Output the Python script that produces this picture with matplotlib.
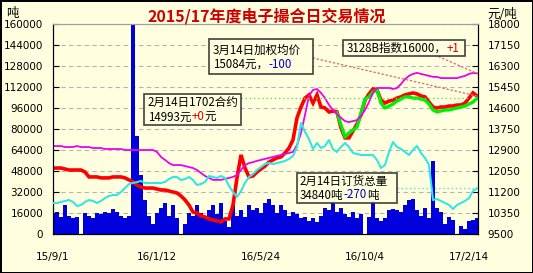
import matplotlib
matplotlib.use('Agg')
import matplotlib.pyplot as plt
import numpy as np
from matplotlib.patches import Rectangle

plt.rcParams['font.family'] = ['Noto Sans CJK SC', 'DejaVu Sans']

title = '2015/17年度电子撮合日交易情况'
date_labels = ['15/9/1', '16/1/12', '16/5/24', '16/10/4', '17/2/14']
date_ticks = [0, 26, 52, 78, 104]

# daily volume (t), left axis
volume = [15000, 17000, 13000, 22000, 14000, 12000, 13000, 0, 16000, 14000,
          12000, 16000, 15000, 17000, 16000, 19000, 17000, 14000, 12000, 14000,
          160000, 75000, 45000, 26000, 14000, 8000, 16000, 20000, 24000, 14000,
          22000, 12000, 0, 8000, 16000, 14000, 22000, 16000, 13000, 18000,
          22000, 15000, 24000, 10000, 5000, 22000, 14000, 18000, 13000, 22000,
          18000, 20000, 16000, 24000, 27000, 22000, 16000, 22000, 18000, 14000,
          17000, 15000, 12000, 13000, 10000, 12000, 9000, 14000, 20000, 18000,
          24000, 17000, 20000, 15000, 13000, 17000, 12000, 15000, 0, 13000,
          25000, 12000, 10000, 12000, 18000, 19000, 18000, 17000, 22000, 26000,
          27000, 18000, 14000, 20000, 12000, 56000, 20000, 17000, 8000, 13000,
          11000, 0, 6000, 4000, 10000, 11000, 12000]

# total orders (t), left axis
order_total = [23620, 23620, 24380, 25140, 25900, 24380, 21330, 22100, 24380, 25900,
               25140, 23620, 25140, 27430, 28950, 29710, 29710, 32000, 35050, 38100,
               38860, 39620, 40380, 38860, 38860, 38860, 38860, 38860, 39620, 41900,
               43430, 43430, 41140, 41900, 43430, 41140, 37330, 38100, 39620, 44190,
               43430, 42670, 44190, 42670, 36570, 32000, 28190, 32760, 38860, 43430,
               45710, 48760, 51050, 53330, 54100, 53330, 54100, 54860, 55620, 57140,
               59430, 66290, 84570, 77710, 72380, 64760, 69330, 65520, 67050, 71620,
               64760, 62480, 66290, 69330, 66290, 61710, 60950, 60190, 60190, 60190,
               60190, 56380, 50290, 52570, 62480, 70100, 66290, 64760, 62480, 60190,
               64000, 67050, 61710, 57900, 52570, 25900, 26670, 25140, 23620, 22100,
               19050, 22100, 23620, 25140, 27430, 32760, 34840]

# 3128B index (yuan/t), right axis
index_3128b = [13060, 13060, 13060, 13020, 13020, 13020, 13060, 13020, 13020, 13020,
               12980, 12980, 12980, 12940, 12940, 12940, 12940, 12940, 12900, 12900,
               12900, 12900, 12900, 12900, 12900, 12900, 12820, 12620, 12500, 12370,
               12290, 12290, 12290, 12250, 12210, 12170, 12090, 11970, 11850, 11770,
               11690, 11690, 11690, 11730, 11770, 11810, 11890, 12090, 12290, 12370,
               12410, 12460, 12500, 12540, 12580, 12620, 12660, 12700, 12740, 12780,
               12820, 13100, 13590, 14320, 15090, 15330, 15370, 15210, 15000, 14720,
               14520, 14360, 14200, 14070, 14030, 14070, 14110, 14280, 14520, 14840,
               15210, 15410, 15410, 15410, 15410, 15370, 15410, 15570, 15770, 15900,
               15980, 16020, 15980, 15940, 15900, 15860, 15860, 15810, 15810, 15810,
               15810, 15810, 15860, 15900, 15980, 16020, 16000]

# weighted average price (yuan/t), right axis
weighted_avg = [12170, 12170, 12170, 12130, 12090, 12090, 12090, 12090, 12010, 11810,
                11810, 11810, 11770, 11770, 11770, 11810, 11810, 11810, 11770, 11690,
                11610, 11480, 11400, 11360, 11360, 11360, 11320, 11280, 11280, 11240,
                11200, 11160, 11040, 10880, 10670, 10390, 10350, 10230, 10190, 10110,
                10070, 10030, 9990, 10110, 10110, 10670, 11770, 12700, 12170, 11810,
                11850, 12010, 12130, 12250, 12410, 12500, 12580, 12620, 12780, 12980,
                13310, 14200, 14640, 15000, 15130, 14800, 15130, 14640, 14600, 14440,
                14480, 14440, 13790, 13390, 13390, 13670, 13950, 14320, 14920, 15170,
                15370, 15330, 14920, 14800, 14880, 14920, 15000, 15050, 15130, 15170,
                15210, 15170, 15090, 15050, 14840, 14640, 14600, 14640, 14640, 14680,
                14680, 14720, 14720, 14800, 15000, 15210, 15084]

# 1702 contract (yuan/t), right axis
nan = float('nan')
contract_1702 = [nan] * 71 + [
    14400, 13910, 13430, 13590, 13710, 13830, 14400, 14960, 15050, 15250,
    15330, 14800, 14600, 14680, 14760, 14880, 14960, 15050, 15050, 15000,
    15000, 14960, 14920, 14760, 14520, 14440, 14480, 14520, 14520, 14560,
    14600, 14640, 14680, 14760, 14840, 14993]

avg_change = -100
idx_change = 1
c1702_change = 0
order_change = -270

W, H = 533, 273
BG = '#FFFFE0'
FS = 8.3

fig = plt.figure(figsize=(W / 100, H / 100), dpi=100, facecolor=BG)
fig.patch.set_edgecolor('black')
fig.patch.set_linewidth(2)

ax1 = fig.add_axes([53 / W, 1 - 234 / H, 425 / W, 210 / H])
ax1.set_facecolor(BG)
x = np.arange(len(volume))
ax1.bar(x, volume, width=1.0, color='#0000DD', linewidth=0, zorder=2)
ax1.set_ylim(0, 160000)
ax1.set_yticks(np.arange(0, 160001, 16000))
ax1.set_xlim(0, 106.25)
ax1.set_xticks(date_ticks)
ax1.set_xticklabels(date_labels)
ax1.grid(axis='y', color='#B4B4B4', linestyle=(0, (4, 3)), linewidth=0.8)
ax1.set_axisbelow(True)
ax1.tick_params(axis='y', direction='in', length=4, pad=7, labelsize=7.5)
ax1.tick_params(axis='x', length=0, pad=13, labelsize=7.5)

ax2 = ax1.twinx()
ax2.set_ylim(9500, 18000)
ax2.set_yticks(np.arange(9500, 18001, 850))
ax2.tick_params(axis='y', direction='in', length=4, pad=7, labelsize=7.5)
ax2.plot(x, weighted_avg, color='#FF0000', lw=2.6, solid_joinstyle='miter')
ax2.plot(x, contract_1702, color='#00EE00', lw=2.4)
ax2.plot(x, index_3128b, color='#EE00EE', lw=1.3)
ax2.set_xlim(0, 106.25)

ax3 = ax1.twinx()
ax3.set_ylim(0, 160000)
ax3.set_xlim(0, 106.25)
ax3.plot(x, order_total, color='#33E6E6', lw=1.5)
ax3.axis('off')

for ax in (ax1, ax2):
    ax.spines['top'].set_color('#A0A0A0')
    for lbl in ax.get_yticklabels() + ax.get_xticklabels():
        lbl.set_fontfamily('DejaVu Sans')

# guide lines
ax2.axhline(contract_1702[-1], xmin=(241 - 53) / 425, xmax=1, color='#66D966',
            linestyle=(0, (1, 2)), lw=1)
ax3.axhline(order_total[-1], xmin=(397 - 53) / 425, xmax=1, color='#55DDDD',
            linestyle=(0, (1, 2)), lw=1)
ax2.annotate('', xy=(x[-1], weighted_avg[-1]), xycoords='data',
             xytext=(313, H - 58), textcoords='figure pixels',
             arrowprops=dict(arrowstyle='-', linestyle=(0, (1, 2)), color='#E07070',
                             lw=1, shrinkA=0, shrinkB=0))
ax2.annotate('', xy=(x[-1], index_3128b[-1]), xycoords='data',
             xytext=(435, H - 55), textcoords='figure pixels',
             arrowprops=dict(arrowstyle='-', linestyle=(0, (1, 2)), color='#E07070',
                             lw=1, shrinkA=0, shrinkB=0))

# titles
fig.text(267 / W, 1 - 16 / H, title, ha='center', va='center', color='#CC0000',
         fontsize=11.5, fontweight='bold')
fig.text(6 / W, 1 - 14 / H, '吨', ha='left', va='center', fontsize=9)
fig.text(487 / W, 1 - 14 / H, '元/吨', ha='left', va='center', fontsize=9)


def box(x0, y0, x1, y1):
    r = Rectangle((x0 / W, 1 - y1 / H), (x1 - x0) / W, (y1 - y0) / H,
                  transform=fig.transFigure, facecolor=BG, alpha=0.92,
                  edgecolor='#303030', lw=1.2, clip_on=False, zorder=8)
    ax3.add_patch(r)


def line(xp, yp, parts):
    prev = None
    for s, c in parts:
        if prev is None:
            prev = ax3.annotate(s, xy=(xp, H - yp), xycoords='figure pixels',
                                va='center', ha='left', fontsize=FS, color=c,
                                annotation_clip=False, zorder=9)
        else:
            prev = ax3.annotate(s, xy=(1, 0), xycoords=prev, va='bottom', ha='left',
                                fontsize=FS, color=c, annotation_clip=False, zorder=9)


box(209, 39, 313, 74)
line(213, 50, [('3月14日加权均价', 'black')])
line(213, 64, [(f'{weighted_avg[-1]}元，', 'black'), (f'{avg_change:+d}', '#0000CC')])

box(343, 40, 465, 56)
line(347, 48, [(f'3128B指数{index_3128b[-1]}，', 'black'), (f'{idx_change:+d}', '#DD0000')])

box(144, 94, 241, 125)
line(148, 103, [('2月14日1702合约', 'black')])
line(148, 117, [(f'{contract_1702[-1]}元', 'black'), (f'{c1702_change:+d}', '#DD0000'),
                ('元', 'black')])

box(297, 173, 397, 203)
line(300, 181, [('2月14日订货总量', 'black')])
line(300, 195, [(f'{order_total[-1]}吨', 'black'), (f'{order_change:+d}', '#0000CC'),
                ('吨', 'black')])

fig.savefig('out.png', dpi=100, facecolor=BG, edgecolor='black')
